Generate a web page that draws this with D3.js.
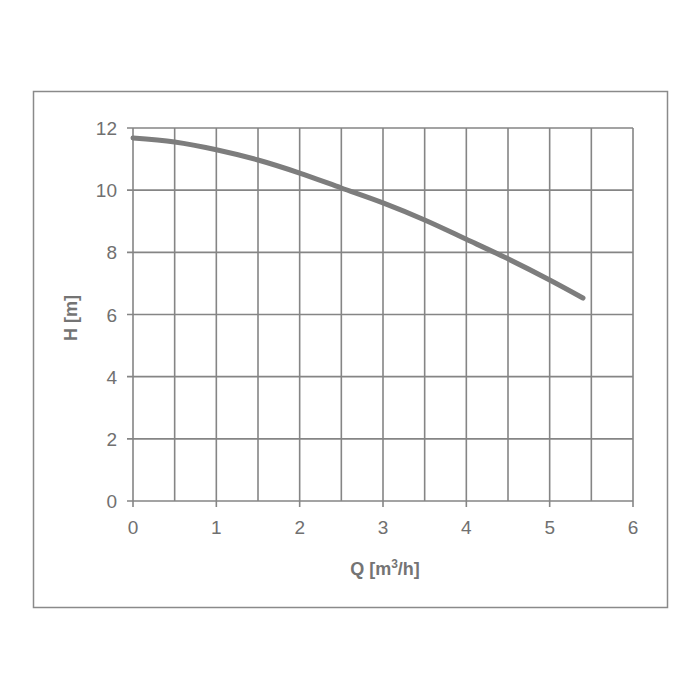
<!DOCTYPE html>
<html>
<head>
<meta charset="utf-8">
<script src="https://cdn.jsdelivr.net/npm/d3@7"></script>
<style>
  body { margin: 0; background: #fff; }
  svg text { font-family: "Liberation Sans", Arial, sans-serif; }
</style>
</head>
<body>
<div id="chart"></div>
<script>
// pump curve Q [m3/h] vs H [m]
const flowQ = [0, 0.5, 1, 1.5, 2, 2.5, 3, 3.5, 4, 4.5, 5, 5.4];
const headH = [11.68, 11.55, 11.3, 10.97, 10.55, 10.07, 9.59, 9.04, 8.42, 7.79, 7.11, 6.53];
const xTicks = [0, 1, 2, 3, 4, 5, 6];
const yTicks = [0, 2, 4, 6, 8, 10, 12];
const xGrid = d3.range(0, 6.01, 0.5);

const width = 700, height = 700;
const margin = { top: 128, right: 67, bottom: 199, left: 133 };
const gray = '#858585';

const svg = d3.select('#chart')
  .append('svg')
  .attr('width', width)
  .attr('height', height);

// outer frame
svg.append('rect')
  .attr('x', 33.5).attr('y', 91.5)
  .attr('width', 634).attr('height', 516)
  .attr('fill', 'none')
  .attr('stroke', '#8a8a8a')
  .attr('stroke-width', 1.5);

const x = d3.scaleLinear().domain([0, 6]).range([margin.left, width - margin.right]);
const y = d3.scaleLinear().domain([0, 12]).range([height - margin.bottom, margin.top]);

// grid
svg.append('g')
  .selectAll('line')
  .data(xGrid)
  .join('line')
  .attr('x1', d => x(d)).attr('x2', d => x(d))
  .attr('y1', y(0)).attr('y2', y(12))
  .attr('stroke', gray).attr('stroke-width', 1.6);

svg.append('g')
  .selectAll('line')
  .data(yTicks)
  .join('line')
  .attr('x1', x(0) - 6).attr('x2', x(6))
  .attr('y1', d => y(d)).attr('y2', d => y(d))
  .attr('stroke', gray).attr('stroke-width', 1.6);

// x ticks
svg.append('g')
  .selectAll('line')
  .data(xTicks)
  .join('line')
  .attr('x1', d => x(d)).attr('x2', d => x(d))
  .attr('y1', y(0)).attr('y2', y(0) + 6)
  .attr('stroke', gray).attr('stroke-width', 1.6);

svg.append('g')
  .selectAll('text')
  .data(xTicks)
  .join('text')
  .attr('x', d => x(d))
  .attr('y', y(0) + 33)
  .attr('text-anchor', 'middle')
  .attr('font-size', 19)
  .attr('fill', '#707070')
  .text(d => d);

svg.append('g')
  .selectAll('text')
  .data(yTicks)
  .join('text')
  .attr('x', x(0) - 16)
  .attr('y', d => y(d) + 7)
  .attr('text-anchor', 'end')
  .attr('font-size', 19)
  .attr('fill', '#707070')
  .text(d => d);

// axis titles
const qTitle = svg.append('text')
  .attr('x', 385)
  .attr('y', 575)
  .attr('text-anchor', 'middle')
  .attr('font-size', 18)
  .attr('font-weight', 'bold')
  .attr('fill', '#747474');
qTitle.append('tspan').text('Q [m');
qTitle.append('tspan').attr('font-size', 12).attr('dy', -7).text('3');
qTitle.append('tspan').attr('dy', 7).text('/h]');

svg.append('text')
  .attr('transform', `translate(77, 318) rotate(-90)`)
  .attr('text-anchor', 'middle')
  .attr('font-size', 18)
  .attr('font-weight', 'bold')
  .attr('fill', '#747474')
  .text('H [m]');

// curve
const line = d3.line()
  .x((d, i) => x(flowQ[i]))
  .y(d => y(d))
  .curve(d3.curveMonotoneX);

svg.append('path')
  .datum(headH)
  .attr('d', line)
  .attr('fill', 'none')
  .attr('stroke', '#7d7d7d')
  .attr('stroke-width', 5)
  .attr('stroke-linecap', 'round');
</script>
</body>
</html>
